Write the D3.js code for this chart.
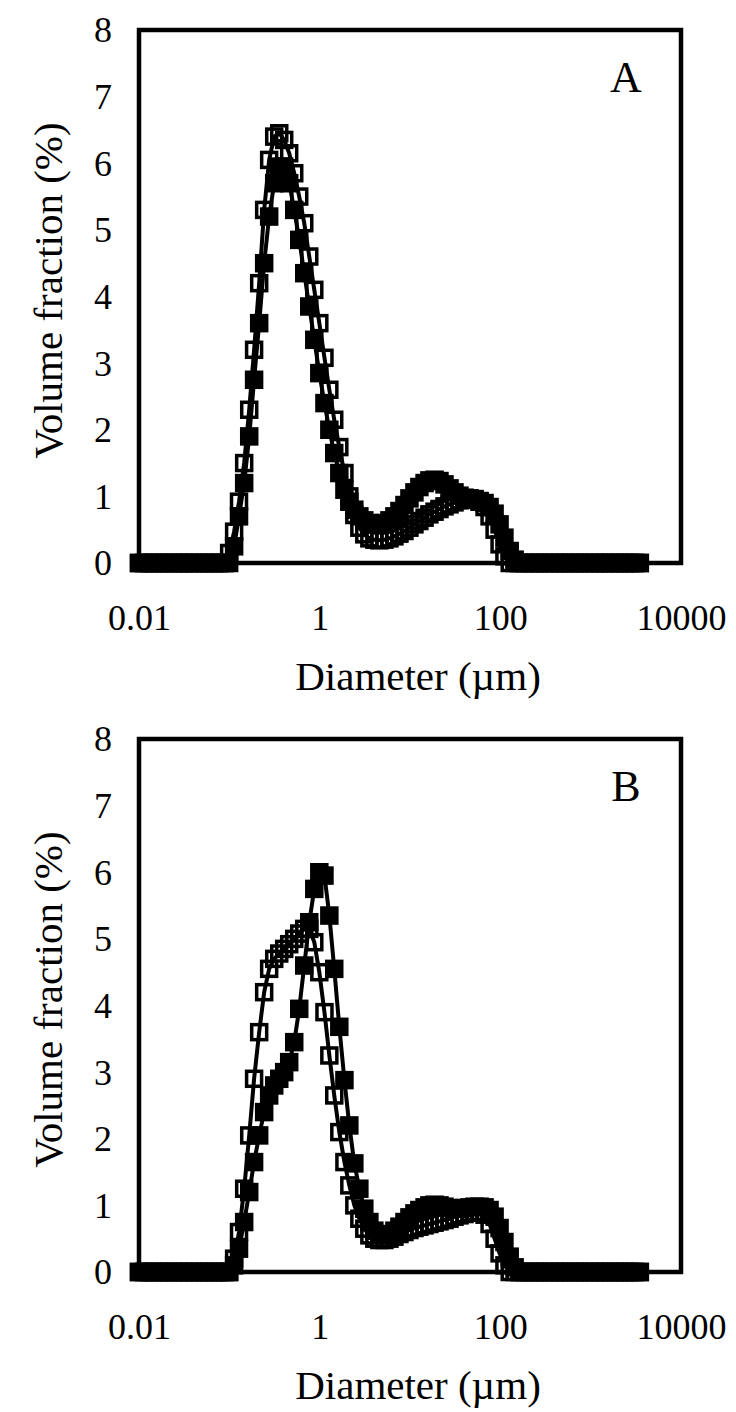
<!DOCTYPE html>
<html>
<head>
<meta charset="utf-8">
<script src="https://cdn.jsdelivr.net/npm/d3@7"></script>
<style>
  body { margin: 0; background: #fff; }
  svg text { font-family: "Liberation Serif", "Times New Roman", serif; fill: #000; }
</style>
</head>
<body>
<svg id="chart" width="736" height="1412"></svg>
<script>
// particle size classes (um)
const sizes = [
  0.0100, 0.0114, 0.0129, 0.0147, 0.0167, 0.0189, 0.0215, 0.0244, 0.0278, 0.0315,
  0.0358, 0.0407, 0.0463, 0.0526, 0.0597, 0.0679, 0.0771, 0.0876, 0.0995, 0.113,
  0.128, 0.146, 0.166, 0.188, 0.214, 0.243, 0.276, 0.314, 0.357, 0.405,
  0.460, 0.523, 0.594, 0.675, 0.767, 0.872, 0.991, 1.13, 1.28, 1.45,
  1.65, 1.88, 2.13, 2.42, 2.75, 3.12, 3.55, 4.03, 4.58, 5.21,
  5.92, 6.72, 7.64, 8.68, 9.86, 11.2, 12.7, 14.5, 16.4, 18.7,
  21.2, 24.1, 27.4, 31.1, 35.3, 40.1, 45.6, 51.8, 58.9, 66.9,
  76.0, 86.4, 98.1, 111, 127, 144, 163, 186, 211, 240,
  272, 310, 352, 400, 454, 516, 586, 666, 756, 859,
  976, 1110, 1260, 1430, 1630, 1850, 2100, 2390, 2710, 3080,
  3500
];

// volume fraction (%) - panel A
const volA_open = [
  0, 0, 0, 0, 0, 0, 0, 0, 0, 0,
  0, 0, 0, 0, 0, 0, 0, 0, 0.15, 0.47,
  0.92, 1.5, 2.3, 3.2, 4.2, 5.3, 6.05, 6.4, 6.45, 6.35,
  6.15, 5.85, 5.5, 5.1, 4.6, 4.1, 3.6, 3.08, 2.6, 2.15,
  1.74, 1.35, 1.0, 0.72, 0.53, 0.43, 0.37, 0.35, 0.34, 0.35,
  0.37, 0.4, 0.44, 0.48, 0.53, 0.58, 0.63, 0.68, 0.73, 0.77,
  0.81, 0.85, 0.88, 0.91, 0.94, 0.96, 0.97, 0.96, 0.92, 0.84,
  0.7, 0.5, 0.28, 0.1, 0, 0, 0, 0, 0, 0,
  0, 0, 0, 0, 0, 0, 0, 0, 0, 0,
  0, 0, 0, 0, 0, 0, 0, 0, 0, 0,
  0
];
const volA_solid = [
  0, 0, 0, 0, 0, 0, 0, 0, 0, 0,
  0, 0, 0, 0, 0, 0, 0, 0, 0, 0.25,
  0.7, 1.2, 1.9, 2.75, 3.6, 4.5, 5.2, 5.7, 5.95, 5.95,
  5.7, 5.3, 4.85, 4.35, 3.85, 3.35, 2.85, 2.4, 2.0, 1.65,
  1.35, 1.1, 0.92, 0.8, 0.7, 0.64, 0.6, 0.58, 0.58, 0.6,
  0.64, 0.7, 0.78, 0.87, 0.97, 1.06, 1.14, 1.2, 1.24, 1.25,
  1.23, 1.18, 1.12, 1.06, 1.01, 0.98, 0.96, 0.95, 0.93, 0.9,
  0.84, 0.74, 0.58, 0.38, 0.18, 0.05, 0, 0, 0, 0,
  0, 0, 0, 0, 0, 0, 0, 0, 0, 0,
  0, 0, 0, 0, 0, 0, 0, 0, 0, 0,
  0
];

// volume fraction (%) - panel B
const volB_open = [
  0, 0, 0, 0, 0, 0, 0, 0, 0, 0,
  0, 0, 0, 0, 0, 0, 0, 0, 0, 0.2,
  0.6, 1.25, 2.05, 2.9, 3.6, 4.2, 4.55, 4.7, 4.78, 4.85,
  4.92, 5.0, 5.08, 5.15, 5.15, 4.95, 4.5, 3.9, 3.25, 2.65,
  2.1, 1.65, 1.3, 1.0, 0.8, 0.65, 0.55, 0.5, 0.48, 0.48,
  0.5, 0.53, 0.57, 0.6, 0.63, 0.66, 0.68, 0.7, 0.72, 0.74,
  0.76, 0.78, 0.8, 0.83, 0.85, 0.87, 0.89, 0.9, 0.9, 0.86,
  0.72, 0.5, 0.28, 0.1, 0, 0, 0, 0, 0, 0,
  0, 0, 0, 0, 0, 0, 0, 0, 0, 0,
  0, 0, 0, 0, 0, 0, 0, 0, 0, 0,
  0
];
const volB_solid = [
  0, 0, 0, 0, 0, 0, 0, 0, 0, 0,
  0, 0, 0, 0, 0, 0, 0, 0, 0, 0.1,
  0.35, 0.75, 1.2, 1.65, 2.05, 2.4, 2.65, 2.8, 2.9, 3.0,
  3.15, 3.45, 3.95, 4.6, 5.25, 5.75, 6.0, 5.95, 5.35, 4.55,
  3.68, 2.88, 2.2, 1.63, 1.25, 0.95, 0.75, 0.62, 0.56, 0.55,
  0.57, 0.62, 0.68, 0.75, 0.82, 0.88, 0.93, 0.97, 1.0, 1.01,
  1.0, 0.98, 0.96, 0.95, 0.95, 0.96, 0.97, 0.98, 0.98, 0.97,
  0.93, 0.83, 0.66, 0.45, 0.23, 0.07, 0, 0, 0, 0,
  0, 0, 0, 0, 0, 0, 0, 0, 0, 0,
  0, 0, 0, 0, 0, 0, 0, 0, 0, 0,
  0
];

// axis ticks
const xTicks = [0.01, 1, 100, 10000];
const xTickLabels = ['0.01', '1', '100', '10000'];
const yTicks = [0, 1, 2, 3, 4, 5, 6, 7, 8];

const panels = [
  { letter: 'A', open: volA_open, solid: volA_solid, top: 30 },
  { letter: 'B', open: volB_open, solid: volB_solid, top: 739 }
];

const svg = d3.select('#chart');
const left = 139, right = 681, plotH = 533;
const markerSide = 15, markerStroke = 3.5;

panels.forEach(p => {
  const g = svg.append('g').attr('transform', `translate(0, ${p.top})`);

  const x = d3.scaleLog().domain([0.01, 10000]).range([left, right]);
  const y = d3.scaleLinear().domain([0, 8]).range([plotH, 0]);

  // y axis labels (no tick marks, frame is drawn separately)
  const yAxis = g.append('g')
    .attr('transform', `translate(${left - 24}, 0)`)
    .call(d3.axisLeft(y).tickValues(yTicks).tickSize(0).tickFormat(d3.format('d')));
  yAxis.select('.domain').remove();
  yAxis.selectAll('text')
    .style('font-family', '"Liberation Serif", serif')
    .style('font-size', '36px')
    .attr('dy', '0.33em');

  // x axis labels
  const xAxis = g.append('g')
    .attr('transform', `translate(0, ${plotH + 38})`)
    .call(d3.axisBottom(x).tickValues(xTicks).tickSize(0)
      .tickFormat((d, i) => xTickLabels[i]));
  xAxis.select('.domain').remove();
  xAxis.selectAll('text')
    .style('font-family', '"Liberation Serif", serif')
    .style('font-size', '36px');

  // axis titles
  g.append('text')
    .attr('transform', `translate(62, ${plotH / 2 - 6}) rotate(-90)`)
    .attr('text-anchor', 'middle')
    .style('font-size', '41px')
    .text('Volume fraction (%)');

  g.append('text')
    .attr('x', (left + right) / 2 + 8)
    .attr('y', plotH + 127)
    .attr('text-anchor', 'middle')
    .style('font-size', '41px')
    .text('Diameter (\u00b5m)');

  // plot frame
  g.append('rect')
    .attr('x', left)
    .attr('y', 0)
    .attr('width', right - left)
    .attr('height', plotH)
    .attr('fill', 'none')
    .attr('stroke', '#000')
    .attr('stroke-width', 4.5);

  // panel letter
  g.append('text')
    .attr('x', right - 55)
    .attr('y', 62)
    .attr('text-anchor', 'middle')
    .style('font-size', '44px')
    .text(p.letter);

  const line = d3.line()
    .x(d => x(d.size))
    .y(d => y(d.v));

  const series = [
    { values: p.solid, filled: true },
    { values: p.open, filled: false }
  ];

  series.forEach(s => {
    const data = sizes.map((size, i) => ({ size: size, v: s.values[i] }));

    g.append('path')
      .datum(data)
      .attr('d', line)
      .attr('fill', 'none')
      .attr('stroke', '#000')
      .attr('stroke-width', 4)
      .attr('stroke-linejoin', 'round');

    g.append('g')
      .selectAll('rect')
      .data(data)
      .join('rect')
      .attr('x', d => x(d.size) - markerSide / 2)
      .attr('y', d => y(d.v) - markerSide / 2)
      .attr('width', markerSide)
      .attr('height', markerSide)
      .attr('fill', s.filled ? '#000' : 'none')
      .attr('stroke', '#000')
      .attr('stroke-width', markerStroke);
  });
});
</script>
</body>
</html>
